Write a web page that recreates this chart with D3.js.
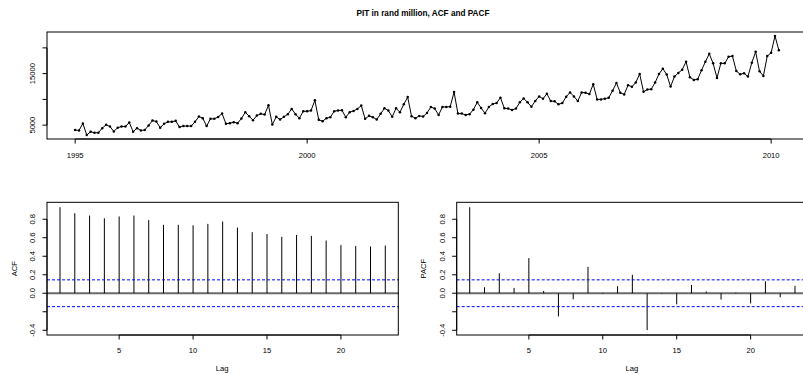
<!DOCTYPE html>
<html>
<head>
<meta charset="utf-8">
<script src="https://cdn.jsdelivr.net/npm/d3@7"></script>
<style>
  html, body { margin: 0; padding: 0; background: #fff; }
  svg { display: block; }
  text { font-family: "Liberation Sans", Arial, Helvetica, sans-serif; fill: #000; }
</style>
</head>
<body>
<svg id="chart" width="803" height="374"></svg>
<script>
// Monthly PIT receipts (rand million), January 1995 onwards
const startYear = 1995;
const pit = [
  4040, 3975, 5320, 3080, 3720, 3530, 3530, 4420, 5060, 4740, 3780, 4490,
  4740, 4740, 5510, 3720, 4420, 3975, 4040, 4940, 5900, 5700, 4490, 5260,
  5640, 5640, 5830, 4620, 4810, 4810, 4810, 5640, 6670, 6350, 4810, 6220,
  6220, 6600, 7240, 5260, 5380, 5580, 5380, 6280, 7500, 6730, 5960, 6860,
  7190, 7060, 8850, 5130, 6610, 6100, 6610, 7120, 8150, 7120, 6350, 7700,
  7700, 7830, 9810, 6030, 5780, 6350, 6540, 7700, 7830, 7890, 6540, 7510,
  7760, 8150, 8790, 6220, 6800, 6540, 6100, 7190, 8280, 7830, 6610, 8280,
  7500, 9040, 10450, 6730, 6350, 6790, 6670, 7370, 8530, 8210, 6990, 8530,
  8530, 8590, 11410, 7240, 7240, 6990, 7120, 8010, 9420, 8330, 7310, 8530,
  9100, 9290, 10320, 8270, 8210, 7950, 8210, 9420, 10190, 9420, 8590, 9680,
  10580, 10130, 11090, 9680, 9620, 9040, 9290, 10510, 11350, 10580, 9680, 11350,
  11280, 11030, 12950, 10000, 10000, 10130, 10320, 11670, 13200, 11280, 10960, 12760,
  12440, 13270, 14940, 11470, 11920, 11990, 13270, 14940, 15960, 14810, 12500, 14420,
  15130, 15770, 17310, 14290, 13780, 13910, 15640, 17310, 18850, 16990, 14170, 16990,
  16990, 18270, 18400, 15510, 14870, 15060, 14420, 17110, 19230, 15450, 14550, 18400,
  19040, 22310, 19550
];

// Tick values and labels of the series panel
const yearTicks = [1995, 2000, 2005, 2010];
const pitTicks = [5000, 10000, 15000, 20000];
const pitTickLabels = ["5000", "", "15000", ""];

// Sample autocorrelations and partial autocorrelations, lags 1..23
const lags = [1, 2, 3, 4, 5, 6, 7, 8, 9, 10, 11, 12, 13, 14, 15, 16, 17, 18, 19, 20, 21, 22, 23];
const acfValues = [0.93, 0.865, 0.84, 0.81, 0.83, 0.84, 0.79, 0.74, 0.74, 0.735, 0.75, 0.775,
                   0.71, 0.66, 0.64, 0.61, 0.63, 0.62, 0.57, 0.52, 0.51, 0.505, 0.515];
const pacfValues = [0.93, 0.065, 0.216, 0.058, 0.38, 0.025, -0.25, -0.065, 0.285, -0.007, 0.076, 0.20,
                    -0.398, -0.005, -0.12, 0.09, 0.02, -0.068, 0.007, -0.11, 0.13, -0.043, 0.08];
const lagTicks = [5, 10, 15, 20];
const corrTicks = [-0.4, -0.2, 0.0, 0.2, 0.4, 0.6, 0.8];
const corrTickLabels = ["-0.4", "", "0.0", "0.2", "0.4", "0.6", "0.8"];

const titleText = "PIT in rand million, ACF and PACF";

// ---------------------------------------------------------------
const svg = d3.select("#chart");
svg.append("rect").attr("width", 803).attr("height", 374).attr("fill", "#fff");

const FS = 7.6;      // axis text size
const TICK = 4.5;    // tick length

// R-style 4% padding of a data range
function padded(lo, hi) {
  const r = hi - lo;
  return [lo - 0.04 * r, hi + 0.04 * r];
}

function box(g, x0, x1, y0, y1) {
  g.append("rect")
    .attr("x", x0).attr("y", y0)
    .attr("width", x1 - x0).attr("height", y1 - y0)
    .attr("fill", "none").attr("stroke", "#000").attr("stroke-width", 1);
}

function leftAxis(g, y, x0, ticks, labels, labelX) {
  ticks.forEach((t, i) => {
    const yy = y(t);
    g.append("line").attr("x1", x0 - TICK).attr("x2", x0)
      .attr("y1", yy).attr("y2", yy).attr("stroke", "#000");
    if (labels[i]) {
      g.append("text")
        .attr("transform", `translate(${labelX},${yy}) rotate(-90)`)
        .attr("text-anchor", "middle")
        .attr("font-size", FS)
        .text(labels[i]);
    }
  });
  // axis line from first to last tick
  g.append("line").attr("x1", x0).attr("x2", x0)
    .attr("y1", y(ticks[0])).attr("y2", y(ticks[ticks.length - 1]))
    .attr("stroke", "#000");
}

function bottomAxis(g, x, y0, ticks, labels, labelY) {
  ticks.forEach((t, i) => {
    const xx = x(t);
    g.append("line").attr("x1", xx).attr("x2", xx)
      .attr("y1", y0).attr("y2", y0 + TICK).attr("stroke", "#000");
    g.append("text")
      .attr("x", xx).attr("y", labelY)
      .attr("text-anchor", "middle")
      .attr("font-size", FS)
      .text(labels[i]);
  });
  g.append("line").attr("x1", x(ticks[0])).attr("x2", x(ticks[ticks.length - 1]))
    .attr("y1", y0).attr("y2", y0).attr("stroke", "#000");
}

// ---------------- Title ----------------
svg.append("text")
  .attr("x", 423).attr("y", 16)
  .attr("text-anchor", "middle")
  .attr("font-size", 8.2)
  .attr("font-weight", "bold")
  .text(titleText);

// ---------------- Time series panel ----------------
const seriesPanel = { x0: 47, x1: 807, y0: 32, y1: 139 };
const times = pit.map((_, i) => startYear + i / 12);
const xT = d3.scaleLinear()
  .domain(padded(times[0], times[times.length - 1]))
  .range([seriesPanel.x0, seriesPanel.x1]);
const yT = d3.scaleLinear()
  .domain(padded(d3.min(pit), d3.max(pit)))
  .range([seriesPanel.y1, seriesPanel.y0]);

const gSeries = svg.append("g");
const series = pit.map((v, i) => [times[i], v]);
gSeries.append("path")
  .datum(series)
  .attr("fill", "none")
  .attr("stroke", "#000")
  .attr("stroke-width", 1)
  .attr("d", d3.line().x(d => xT(d[0])).y(d => yT(d[1])));
gSeries.selectAll("circle")
  .data(series)
  .join("circle")
  .attr("cx", d => xT(d[0]))
  .attr("cy", d => yT(d[1]))
  .attr("r", 1.25)
  .attr("fill", "#000");
box(gSeries, seriesPanel.x0, seriesPanel.x1, seriesPanel.y0, seriesPanel.y1);
leftAxis(gSeries, yT, seriesPanel.x0, pitTicks, pitTickLabels, 35.2);
bottomAxis(gSeries, xT, seriesPanel.y1, yearTicks, yearTicks.map(String), 157.5);

// ---------------- Correlogram panels ----------------
const corrDomain = padded(
  Math.min(d3.min(acfValues), d3.min(pacfValues)),
  Math.max(d3.max(acfValues), d3.max(pacfValues))
);
const confLimit = 1.96 / Math.sqrt(pit.length);

function correlogram(values, panel, yLabel, tickLabelX, yLabelX) {
  const g = svg.append("g");
  const x = d3.scaleLinear()
    .domain(padded(lags[0], lags[lags.length - 1]))
    .range([panel.x0, panel.x1]);
  const y = d3.scaleLinear().domain(corrDomain).range([panel.y1, panel.y0]);

  // zero line
  g.append("line")
    .attr("x1", panel.x0).attr("x2", panel.x1)
    .attr("y1", y(0)).attr("y2", y(0))
    .attr("stroke", "#6a6a6a").attr("stroke-width", 1.8);

  // spikes
  g.selectAll("line.spike")
    .data(values)
    .join("line")
    .attr("class", "spike")
    .attr("x1", (d, i) => x(lags[i])).attr("x2", (d, i) => x(lags[i]))
    .attr("y1", y(0)).attr("y2", d => y(d))
    .attr("stroke", "#000").attr("stroke-width", 1);

  // confidence bounds
  [confLimit, -confLimit].forEach(c => {
    g.append("line")
      .attr("x1", panel.x0).attr("x2", panel.x1)
      .attr("y1", y(c)).attr("y2", y(c))
      .attr("stroke", "#0000ff").attr("stroke-width", 1)
      .attr("stroke-dasharray", "3,2");
  });

  box(g, panel.x0, panel.x1, panel.y0, panel.y1);
  leftAxis(g, y, panel.x0, corrTicks, corrTickLabels, tickLabelX);
  bottomAxis(g, x, panel.y1, lagTicks, lagTicks.map(String), 353.3);

  g.append("text")
    .attr("x", (panel.x0 + panel.x1) / 2 - 0.5).attr("y", 371)
    .attr("text-anchor", "middle").attr("font-size", FS)
    .text("Lag");
  g.append("text")
    .attr("transform", `translate(${yLabelX},${(panel.y0 + panel.y1) / 2}) rotate(-90)`)
    .attr("text-anchor", "middle").attr("font-size", FS)
    .text(yLabel);
}

correlogram(acfValues, { x0: 47, x1: 398.3, y0: 202.3, y1: 335 }, "ACF", 35.2, 16.7);
correlogram(pacfValues, { x0: 456.7, x1: 808, y0: 202.3, y1: 335 }, "PACF", 445.2, 425.7);
</script>
</body>
</html>
